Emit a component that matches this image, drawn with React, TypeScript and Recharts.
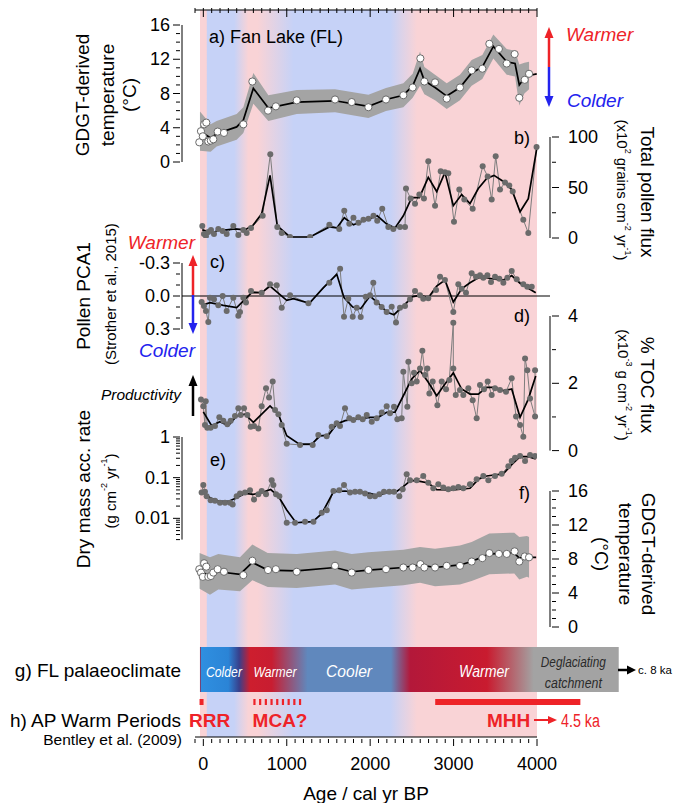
import { ComposedChart, Line, Area, XAxis, YAxis, ReferenceArea, ReferenceLine } from "recharts";

const W = 675;
const H = 803;
const FONT = "Arial, 'Liberation Sans', Helvetica, sans-serif";
const RED = "#ee2328";
const BLUE = "#2323ee";

// px of age 0 and px per year
const AGE0_PX = 203.3;
const PX_PER_YR = 0.08342;
const pxToAge = (px: number) => (px - AGE0_PX) / PX_PER_YR;
const ageToPx = (age: number) => AGE0_PX + age * PX_PER_YR;

// ---- shared GDGT sample ages (panels a and f)
const gdgtAges = [-48, -28, -6, 10, 36, 60, 90, 120, 172, 248, 480, 588, 776, 870, 1120, 1579, 1779, 1979, 2190, 2398, 2510, 2602, 2650, 2778, 2918, 3077, 3217, 3345, 3429, 3543, 3637, 3732, 3788, 3853, 3905];

// a) GDGT temperature (FL calibration)
const tempA = [2.3, 3.6, 3.0, 4.4, 4.6, 2.4, 2.5, 2.65, 3.55, 3.4, 4.4, 9.4, 6.0, 6.5, 7.2, 7.3, 7.0, 6.4, 7.3, 7.8, 8.7, 12.1, 9.4, 9.3, 7.4, 8.7, 10.7, 10.9, 13.8, 13.2, 11.5, 12.6, 7.5, 9.6, 10.3];
const smoothAAges = [-40, 88, 160, 400, 480, 600, 780, 1120, 1579, 1979, 2190, 2398, 2510, 2598, 2650, 2778, 2918, 3077, 3217, 3345, 3477, 3637, 3737, 3788, 3849, 3905, 3997];
const smoothA = [3.6, 2.8, 3.3, 4.1, 4.9, 8.6, 6.3, 7.0, 7.15, 6.5, 7.3, 7.8, 8.9, 10.9, 9.5, 8.7, 7.7, 8.7, 10.4, 11.1, 13.5, 11.7, 11.5, 9.0, 9.8, 10.1, 10.3];
const errA = [2.3, 1.6, 1.5, 1.5, 1.5, 1.8, 1.5, 1.4, 1.35, 1.35, 1.35, 1.4, 1.4, 2.0, 1.6, 1.5, 1.5, 1.5, 1.5, 1.4, 1.4, 1.5, 1.5, 2.4, 1.8, 1.6, 1.6];

// b) total pollen flux
const pollenAges = [-12, 8, 32, 60, 92, 128, 180, 232, 280, 360, 420, 480, 520, 572, 712, 803, 887, 940, 1040, 1280, 1511, 1630, 1690, 1750, 1800, 1860, 1920, 1980, 2040, 2085, 2145, 2218, 2278, 2358, 2418, 2430, 2486, 2538, 2590, 2645, 2697, 2778, 2846, 2897, 2937, 3005, 3069, 3129, 3229, 3349, 3409, 3457, 3505, 3557, 3617, 3668, 3709, 3836, 3896, 3995];
const pollen = [12, 4, 2, 6, 8, 4, 9, 7, 4, 12, 3, 8, 5, 10, 22, 83, 11, 5, 1, 1, 13, 9, 27, 14, 20, 15, 18, 19, 22, 17, 29, 11, 9, 11, 11, 49, 39, 34, 43, 39, 76, 32, 66, 65, 64, 16, 48, 38, 29, 71, 61, 38, 81, 48, 55, 52, 46, 18, 5, 90];
const pollenSmoothAges = [-12, 120, 180, 280, 380, 500, 600, 700, 800, 887, 1040, 1280, 1511, 1600, 1690, 1800, 1920, 2085, 2195, 2298, 2398, 2498, 2590, 2697, 2798, 2897, 2997, 3097, 3197, 3297, 3397, 3485, 3597, 3697, 3797, 3896, 4000];
const pollenSmooth = [8, 5, 8, 8, 9, 8, 13, 24, 62, 12, 1, 1, 11, 10, 20, 13, 17, 22, 14, 10, 22, 40, 40, 60, 46, 65, 32, 43, 34, 49, 59, 62, 56, 48, 26, 39, 90];

// c) pollen PCA1
const pcaAges = [-20, 8, 32, 60, 80, 128, 180, 232, 280, 360, 420, 440, 480, 512, 572, 700, 800, 880, 940, 1040, 1260, 1510, 1640, 1687, 1738, 1791, 1839, 1887, 1947, 1998, 2038, 2078, 2138, 2198, 2258, 2310, 2358, 2418, 2478, 2538, 2598, 2637, 2697, 2790, 2838, 2897, 2997, 3057, 3097, 3149, 3217, 3269, 3317, 3357, 3405, 3449, 3497, 3549, 3597, 3645, 3697, 3757, 3836, 3884, 3937];
const pca = [0.055, 0.09, 0.136, 0.236, 0.015, 0.03, 0.085, 0.0, 0.136, 0.015, 0.18, 0.145, 0.015, 0.06, -0.045, -0.03, -0.106, -0.097, 0.106, -0.006, 0.066, -0.12, -0.248, 0.188, 0.024, 0.188, 0.106, 0.19, 0.006, -0.006, -0.12, 0.06, 0.1, 0.145, 0.097, 0.242, 0.106, 0.09, 0.03, -0.045, -0.006, 0.024, 0.021, -0.055, -0.175, -0.145, 0.145, -0.106, -0.066, -0.03, -0.206, -0.175, -0.188, -0.166, -0.188, -0.127, -0.175, -0.157, -0.12, -0.166, -0.227, -0.152, -0.106, -0.085, -0.085];
const pcaSmoothAges = [-20, 80, 240, 400, 580, 700, 800, 1000, 1080, 1272, 1440, 1600, 1687, 1791, 1887, 1998, 2098, 2198, 2286, 2398, 2510, 2598, 2697, 2798, 2897, 2997, 3097, 3197, 3297, 3397, 3497, 3597, 3697, 3797, 3985];
const pcaSmooth = [0.085, 0.06, 0.085, 0.106, -0.03, -0.03, -0.09, 0.04, 0.024, 0.066, -0.076, -0.197, 0.015, 0.1, 0.115, 0.0, 0.066, 0.145, 0.17, 0.09, 0.006, -0.006, 0.015, -0.09, -0.145, 0.055, -0.066, -0.12, -0.166, -0.166, -0.152, -0.145, -0.185, -0.115, -0.03];

// d) % TOC flux
const tocAges = [-28, 0, 20, 29, 48, 88, 140, 192, 240, 288, 328, 380, 420, 448, 488, 528, 568, 608, 660, 700, 752, 788, 832, 860, 900, 940, 1000, 1160, 1311, 1379, 1479, 1539, 1599, 1639, 1699, 1750, 1798, 1858, 1911, 1959, 2019, 2079, 2139, 2198, 2238, 2286, 2326, 2378, 2398, 2446, 2458, 2498, 2526, 2558, 2598, 2626, 2658, 2686, 2710, 2750, 2806, 2858, 2910, 2949, 2997, 2997, 3026, 3077, 3117, 3177, 3229, 3277, 3317, 3365, 3409, 3457, 3497, 3557, 3629, 3697, 3749, 3797, 3836, 3857, 3884, 3917, 3977, 3977];
const toc = [1.52, 1.32, 0.76, 1.47, 0.68, 0.68, 0.73, 0.99, 0.89, 0.78, 0.89, 1.03, 1.26, 1.06, 1.26, 1.06, 0.71, 0.73, 0.66, 1.32, 1.85, 1.58, 2.05, 1.21, 1.08, 0.76, 0.2, 0.17, 0.17, 0.46, 0.43, 0.71, 0.81, 0.73, 1.26, 0.96, 0.91, 0.99, 0.93, 1.06, 0.86, 0.96, 1.13, 1.32, 1.11, 1.3, 0.93, 0.96, 2.34, 1.3, 2.64, 2.0, 2.31, 2.05, 2.44, 2.97, 2.25, 2.44, 1.7, 2.05, 1.35, 2.05, 1.82, 2.1, 3.8, 2.44, 1.65, 1.8, 1.65, 1.85, 1.5, 0.96, 1.95, 1.82, 2.05, 1.65, 1.85, 1.8, 1.75, 2.15, 1.01, 0.76, 0.41, 2.74, 2.39, 1.55, 1.01, 2.39];
const tocSmoothAges = [0, 100, 200, 300, 400, 500, 600, 800, 900, 1000, 1152, 1300, 1400, 1500, 1600, 1700, 1798, 1898, 1998, 2098, 2198, 2298, 2398, 2498, 2598, 2697, 2798, 2897, 2997, 3097, 3197, 3297, 3397, 3497, 3597, 3697, 3797, 3896, 3985];
const tocSmooth = [1.15, 0.74, 0.86, 0.74, 1.03, 1.08, 0.84, 1.33, 1.08, 0.44, 0.19, 0.19, 0.44, 0.46, 0.79, 0.89, 0.93, 0.96, 0.99, 0.99, 1.14, 1.14, 1.63, 2.13, 2.38, 2.03, 1.63, 1.98, 2.31, 1.83, 1.68, 1.68, 1.88, 1.88, 1.78, 1.83, 0.99, 1.53, 2.22];

// e) dry mass accumulation rate
const dmarAges = [-20, 0, 20, 40, 88, 140, 200, 260, 320, 352, 400, 440, 500, 560, 608, 660, 700, 752, 820, 840, 872, 912, 1000, 1100, 1220, 1320, 1420, 1480, 1560, 1630, 1687, 1759, 1819, 1878, 1939, 1998, 2058, 2110, 2166, 2230, 2286, 2350, 2390, 2438, 2478, 2558, 2637, 2697, 2757, 2817, 2877, 2937, 2997, 3057, 3117, 3197, 3277, 3357, 3417, 3497, 3577, 3657, 3697, 3737, 3797, 3857, 3917, 3977];
const dmar = [0.043, 0.066, 0.045, 0.035, 0.028, 0.027, 0.024, 0.024, 0.024, 0.022, 0.035, 0.041, 0.043, 0.049, 0.029, 0.039, 0.047, 0.039, 0.086, 0.066, 0.039, 0.035, 0.0078, 0.0078, 0.0083, 0.0083, 0.0137, 0.0158, 0.047, 0.049, 0.066, 0.043, 0.045, 0.045, 0.041, 0.035, 0.035, 0.039, 0.045, 0.045, 0.045, 0.035, 0.052, 0.121, 0.086, 0.086, 0.11, 0.075, 0.055, 0.069, 0.057, 0.052, 0.055, 0.059, 0.055, 0.069, 0.091, 0.11, 0.086, 0.11, 0.125, 0.19, 0.257, 0.31, 0.34, 0.257, 0.36, 0.34];
const dmarSmoothAges = [0, 80, 200, 300, 400, 500, 600, 700, 808, 900, 1000, 1112, 1312, 1420, 1560, 1699, 1798, 1898, 1998, 2098, 2198, 2298, 2398, 2486, 2598, 2697, 2798, 2997, 3197, 3297, 3397, 3597, 3697, 3797, 3896, 3985];
const dmarSmooth = [0.043, 0.032, 0.026, 0.026, 0.032, 0.041, 0.039, 0.043, 0.051, 0.035, 0.016, 0.0078, 0.0083, 0.013, 0.045, 0.047, 0.044, 0.043, 0.041, 0.036, 0.043, 0.043, 0.06, 0.086, 0.081, 0.074, 0.051, 0.05, 0.055, 0.091, 0.11, 0.125, 0.21, 0.33, 0.33, 0.29];

// f) GDGT temperature (global calibration)
const tempF = [6.8, 6.4, 5.9, 7.5, 7.1, 5.9, 6.0, 6.4, 6.8, 6.5, 6.1, 7.8, 6.7, 6.8, 6.5, 7.2, 6.4, 6.7, 6.8, 7.0, 7.0, 7.4, 7.0, 7.0, 7.2, 7.2, 7.7, 8.1, 8.7, 8.6, 8.6, 8.9, 7.7, 8.3, 8.2];
const smoothFAges = [-44, 80, 180, 440, 588, 772, 1120, 1579, 1779, 1979, 2398, 2598, 2778, 3077, 3217, 3429, 3728, 3788, 3880, 3905, 3990];
const smoothF = [6.6, 6.0, 6.5, 6.2, 7.6, 6.7, 6.6, 7.0, 6.5, 6.7, 7.0, 7.3, 7.0, 7.3, 7.7, 8.6, 8.7, 8.1, 8.3, 8.2, 8.2];
const errF = [2.1, 2.2, 2.1, 2.0, 2.1, 2.0, 2.0, 2.0, 2.1, 2.1, 2.1, 2.1, 2.2, 2.3, 2.3, 2.4, 2.4, 2.5, 2.4, 2.4, 2.4];
const BAND_END = 3905;

// background climate bands
const bgStopAges = [-40, 35, 48, 370, 540, 650, 1080, 2240, 2560, 4000];
const bgStopColors = ["#f9d3d6", "#f9d3d6", "#c6d2f7", "#c6d2f7", "#f9d3d6", "#f9d3d6", "#c6d2f7", "#c6d2f7", "#f9d3d6", "#f9d3d6"];

// g) FL palaeoclimate bar
const barStart = -40;
const barEnd = 4980;
const barStopAges = [-40, -22, 300, 430, 560, 820, 1250, 2250, 2480, 3400, 3960, 4980];
const barStopColors = ["#9c1c3c", "#2f8fe0", "#2b84d6", "#38408c", "#cd1e2e", "#c81d31", "#6088bd", "#6088bd", "#b3183a", "#c91b2f", "#a3a3a3", "#a3a3a3"];
const phaseLabels = ["Colder", "Warmer", "Cooler", "Warmer"];
const phaseLabelAges = [248, 860, 1747, 3366];
const phaseLabelWidths = [36, 43, 46, 50];
const deglacLabelAge = 4430;

// h) AP warm periods (Bentley et al., 2009)
const warmNames = ["RRR", "MCA?", "MHH"];
const warmStart = [-45, 600, 2780];
const warmEnd = [3, 1210, 4520];
const warmDashed = [false, true, false];
const warmLabelAges = [75, 920, 3659];

// axis ticks
const ageMajors = [0, 1000, 2000, 3000, 4000];
const ageTicks = Array.from({ length: 42 }, (_, i) => -100 + i * 100);
const tempTicks = [0, 1, 2, 3, 4, 5, 6, 7, 8, 9, 10, 11, 12, 13, 14, 15, 16];
const tempMajors = [0, 4, 8, 12, 16];
const pollenTicks = [0, 25, 50, 75, 100];
const pollenMajors = [0, 50, 100];
const pcaTicks = [-0.3, -0.2, -0.1, 0, 0.1, 0.2, 0.3];
const pcaMajors = [-0.3, 0, 0.3];
const tocTicks = [0, 1, 2, 3, 4];
const tocMajors = [0, 2, 4];
const dmarTicks = [0.003, 0.004, 0.005, 0.006, 0.007, 0.008, 0.009, 0.01, 0.02, 0.03, 0.04, 0.05, 0.06, 0.07, 0.08, 0.09, 0.1, 0.2, 0.3, 0.4, 0.5, 0.6, 0.7, 0.8, 0.9, 1];
const dmarMajors = [0.01, 0.1, 1];

const rows = (ages: number[], vals: number[]) => ages.map((age, i) => ({ age, v: vals[i] }));
const bandRows = (ages: number[], vals: number[], errs: number[]) =>
  ages.map((age, i) => ({ age, band: [vals[i] - errs[i], vals[i] + errs[i]] })).filter((r) => r.age <= BAND_END);

const isMajor = (majors: number[], v: number) => majors.some((m) => Math.abs(m - v) < 1e-9);

function yTick(side: "left" | "right", majors: number[], fmt: (v: number) => string) {
  return (p: any) => {
    const { x, y, payload } = p;
    const major = isMajor(majors, payload.value);
    const len = major ? 7 : 4;
    const dir = side === "left" ? -1 : 1;
    return (
      <g>
        <line x1={x} y1={y} x2={x + dir * len} y2={y} stroke="#000" strokeWidth={1} />
        {major && (
          <text
            x={side === "left" ? x - 10 : x + 16}
            y={y}
            textAnchor={side === "left" ? "end" : "start"}
            dominantBaseline="central"
            fontSize={18}
            fontFamily={FONT}
            fill="#000"
          >
            {fmt(payload.value)}
          </text>
        )}
      </g>
    );
  };
}

function xTick(side: "top" | "bottom") {
  return (p: any) => {
    const { x, y, payload } = p;
    const major = isMajor(ageMajors, payload.value);
    const len = side === "top" ? (major ? 9 : 5) : major ? 7 : 4;
    return (
      <g>
        <line x1={x} y1={y} x2={x} y2={y + len} stroke="#000" strokeWidth={1} />
        {side === "bottom" && major && (
          <text x={x} y={y + 25} textAnchor="middle" dominantBaseline="central" fontSize={18} fontFamily={FONT} fill="#000">
            {payload.value}
          </text>
        )}
      </g>
    );
  };
}

type PanelProps = {
  side: "left" | "right";
  plotLeft: number;
  plotRight: number;
  top: number;
  bottom: number;
  yDomain: [number, number];
  yTicks: number[];
  yMajors: number[];
  fmt: (v: number) => string;
  reversed?: boolean;
  log?: boolean;
  children?: any;
};

function Panel(p: PanelProps) {
  const axisW = 50;
  const margin =
    p.side === "left"
      ? { top: p.top, bottom: H - p.bottom, left: p.plotLeft - axisW, right: W - p.plotRight }
      : { top: p.top, bottom: H - p.bottom, left: p.plotLeft, right: W - p.plotRight - axisW };
  return (
    <div style={{ position: "absolute", left: 0, top: 0 }}>
      <ComposedChart width={W} height={H} margin={margin}>
        <XAxis type="number" dataKey="age" hide domain={[pxToAge(p.plotLeft), pxToAge(p.plotRight)]} allowDataOverflow />
        <YAxis
          orientation={p.side}
          width={axisW}
          type="number"
          scale={p.log ? "log" : "linear"}
          domain={p.yDomain}
          allowDataOverflow
          reversed={p.reversed}
          ticks={p.yTicks}
          interval={0}
          tickSize={0}
          tickLine={false}
          axisLine={{ stroke: "#000", strokeWidth: 1 }}
          tick={yTick(p.side, p.yMajors, p.fmt)}
        />
        {p.children}
      </ComposedChart>
    </div>
  );
}

const grayDot = { r: 3, fill: "#6b6b6b", stroke: "none" };
const whiteDot = { r: 3.6, fill: "#ffffff", stroke: "#6a6a6a", strokeWidth: 1 };

function rawLine(data: any[]) {
  return <Line data={data} dataKey="v" type="linear" stroke="#7d7d7d" strokeWidth={1} dot={grayDot} isAnimationActive={false} />;
}
function smoothLine(data: any[]) {
  return <Line data={data} dataKey="v" type="linear" stroke="#000" strokeWidth={1.7} dot={false} isAnimationActive={false} />;
}

const frame = [{ age: -100 }, { age: 4000 }];

// coloured climate bands behind every panel, plus the bottom age axis
function Background() {
  const span = bgStopAges[bgStopAges.length - 1] - bgStopAges[0];
  return (
    <div style={{ position: "absolute", left: 0, top: 0 }}>
      <ComposedChart width={W} height={H} data={frame} margin={{ top: 10, bottom: H - 737 - 40, left: 195, right: W - 537 }}>
        <defs>
          <linearGradient id="bgBands" x1="0" y1="0" x2="1" y2="0">
            {bgStopAges.map((a, i) => (
              <stop key={i} offset={(a - bgStopAges[0]) / span} stopColor={bgStopColors[i]} />
            ))}
          </linearGradient>
        </defs>
        <XAxis type="number" dataKey="age" domain={[-100, 4000]} ticks={ageTicks} interval={0} height={40} tickSize={0} tickLine={false} axisLine={{ stroke: "#000" }} tick={xTick("bottom")} />
        <YAxis hide type="number" domain={[0, 1]} allowDataOverflow />
        <ReferenceArea x1={-40} x2={4000} y1={0} y2={1} fill="url(#bgBands)" fillOpacity={1} stroke="none" ifOverflow="visible" />
      </ComposedChart>
    </div>
  );
}

function TopAxis() {
  return (
    <div style={{ position: "absolute", left: 0, top: 0 }}>
      <ComposedChart width={W} height={H} data={frame} margin={{ top: 0, bottom: 100, left: 195, right: W - 537 }}>
        <XAxis orientation="top" type="number" dataKey="age" domain={[-100, 4000]} ticks={ageTicks} interval={0} height={10} tickSize={0} tickLine={false} axisLine={{ stroke: "#000" }} tick={xTick("top")} />
        <YAxis hide domain={[0, 1]} />
      </ComposedChart>
    </div>
  );
}

function ClimateRows() {
  const span = barEnd - barStart;
  return (
    <div style={{ position: "absolute", left: 0, top: 0 }}>
      <ComposedChart width={W} height={H} data={[{ age: 0 }]} margin={{ top: 640, bottom: H - 740, left: 195, right: 0 }}>
        <defs>
          <linearGradient id="flBar" x1="0" y1="0" x2="1" y2="0">
            {barStopAges.map((a, i) => (
              <stop key={i} offset={(a - barStart) / span} stopColor={barStopColors[i]} />
            ))}
          </linearGradient>
        </defs>
        <XAxis type="number" dataKey="age" hide domain={[pxToAge(195), pxToAge(675)]} allowDataOverflow />
        <YAxis hide domain={[0, 100]} reversed allowDataOverflow />
        <ReferenceArea x1={barStart} x2={barEnd} y1={7} y2={52} fill="url(#flBar)" fillOpacity={1} stroke="none" ifOverflow="visible" />
        {warmNames.map((n, i) => (
          <ReferenceLine
            key={n}
            segment={[
              { x: warmStart[i], y: 62 },
              { x: warmEnd[i], y: 62 },
            ]}
            stroke={RED}
            strokeWidth={6}
            strokeDasharray={warmDashed[i] ? "2.2 3.5" : undefined}
            ifOverflow="visible"
          />
        ))}
      </ComposedChart>
    </div>
  );
}

function VArrow({ x, top, mid, bottom, up, down }: { x: number; top: number; mid: number; bottom: number; up: string; down?: string }) {
  const hw = 4.5;
  const hl = 11;
  return (
    <g>
      <line x1={x} y1={top + hl - 1} x2={x} y2={mid} stroke={up} strokeWidth={2.5} />
      <polygon points={`${x},${top} ${x - hw},${top + hl} ${x + hw},${top + hl}`} fill={up} />
      {down && (
        <>
          <line x1={x} y1={mid} x2={x} y2={bottom - hl + 1} stroke={down} strokeWidth={2.5} />
          <polygon points={`${x},${bottom} ${x - hw},${bottom - hl} ${x + hw},${bottom - hl}`} fill={down} />
        </>
      )}
    </g>
  );
}

function RotText({ x, y, rot, size, children }: { x: number; y: number; rot: number; size: number; children: any }) {
  return (
    <text transform={`translate(${x},${y}) rotate(${rot})`} textAnchor="middle" dominantBaseline="central" fontSize={size} fill="#000">
      {children}
    </text>
  );
}

function Sup({ children, size = 9 }: { children: any; size?: number }) {
  return (
    <>
      <tspan dy={-6} fontSize={size}>
        {children}
      </tspan>
      <tspan dy={6}> </tspan>
    </>
  );
}

function Overlay() {
  return (
    <svg width={W} height={H} style={{ position: "absolute", left: 0, top: 0, pointerEvents: "none" }} fontFamily={FONT}>
      {/* left axis titles */}
      <RotText x={82} y={95} rot={-90} size={19}>GDGT-derived</RotText>
      <RotText x={107} y={95} rot={-90} size={19}>temperature</RotText>
      <RotText x={129} y={95} rot={-90} size={19}>(°C)</RotText>
      <RotText x={83} y={296} rot={-90} size={19}>Pollen PCA1</RotText>
      <RotText x={110} y={294} rot={-90} size={15}>(Strother et al., 2015)</RotText>
      <RotText x={83} y={489} rot={-90} size={19}>Dry mass acc. rate</RotText>
      <text transform="translate(110,491) rotate(-90)" textAnchor="middle" dominantBaseline="central" fontSize={15}>
        (g cm<Sup>-2</Sup>yr<tspan dy={-6} fontSize={9}>-1</tspan><tspan dy={6}>)</tspan>
      </text>

      {/* right axis titles */}
      <RotText x={647} y={192} rot={90} size={19}>Total pollen flux</RotText>
      <text transform="translate(622,190) rotate(90)" textAnchor="middle" dominantBaseline="central" fontSize={15}>
        (x10<Sup>2</Sup>grains cm<Sup>-2</Sup>yr<tspan dy={-6} fontSize={9}>-1</tspan><tspan dy={6}>)</tspan>
      </text>
      <RotText x={647} y={385} rot={90} size={19}>% TOC flux</RotText>
      <text transform="translate(623,385) rotate(90)" textAnchor="middle" dominantBaseline="central" fontSize={15}>
        (x10<Sup>-3</Sup>g cm<Sup>-2</Sup>yr<tspan dy={-6} fontSize={9}>-1</tspan><tspan dy={6}>)</tspan>
      </text>
      <RotText x={648} y={554} rot={90} size={19}>GDGT-derived</RotText>
      <RotText x={625} y={554} rot={90} size={19}>temperature</RotText>
      <RotText x={601} y={554} rot={90} size={19}>(°C)</RotText>

      {/* panel letters */}
      <text x={209} y={37} fontSize={18} dominantBaseline="central">a) Fan Lake (FL)</text>
      <text x={530} y={138} fontSize={18} textAnchor="end" dominantBaseline="central">b)</text>
      <text x={210} y={262} fontSize={18} dominantBaseline="central">c)</text>
      <text x={530} y={316} fontSize={18} textAnchor="end" dominantBaseline="central">d)</text>
      <text x={210} y={460} fontSize={18} dominantBaseline="central">e)</text>
      <text x={530} y={493} fontSize={18} textAnchor="end" dominantBaseline="central">f)</text>

      {/* warmer / colder arrows */}
      <VArrow x={549} top={27} mid={67} bottom={107} up={RED} down={BLUE} />
      <text x={566} y={34} fontSize={19} fontStyle="italic" fill={RED} dominantBaseline="central">Warmer</text>
      <text x={567} y={100} fontSize={19} fontStyle="italic" fill={BLUE} dominantBaseline="central">Colder</text>
      <VArrow x={193} top={255} mid={295} bottom={334} up={RED} down={BLUE} />
      <text x={195} y={242} fontSize={19} fontStyle="italic" fill={RED} textAnchor="end" dominantBaseline="central">Warmer</text>
      <text x={195} y={350} fontSize={19} fontStyle="italic" fill={BLUE} textAnchor="end" dominantBaseline="central">Colder</text>
      <VArrow x={193} top={375} mid={416} bottom={416} up="#000" />
      <text x={181} y={394} fontSize={15.5} fontStyle="italic" textAnchor="end" dominantBaseline="central">Productivity</text>

      {/* g) and h) rows */}
      <text x={181} y={670} fontSize={19} textAnchor="end" dominantBaseline="central">g) FL palaeoclimate</text>
      <text x={181} y={720} fontSize={19} textAnchor="end" dominantBaseline="central">h) AP Warm Periods</text>
      <text x={182} y={739} fontSize={15.5} textAnchor="end" dominantBaseline="central">Bentley et al. (2009)</text>
      {phaseLabels.map((l, i) => (
        <text
          key={i}
          x={ageToPx(phaseLabelAges[i]) - phaseLabelWidths[i] / 2}
          y={671}
          fontSize={i >= 2 ? 17 : 15.5}
          fontStyle="italic"
          fill="#ffffff"
          dominantBaseline="central"
          textLength={phaseLabelWidths[i]}
          lengthAdjust="spacingAndGlyphs"
        >
          {l}
        </text>
      ))}
      <text x={ageToPx(deglacLabelAge) - 32} y={661} fontSize={15} fontStyle="italic" fill="#2a2a2a" dominantBaseline="central" textLength={65} lengthAdjust="spacingAndGlyphs">Deglaciating</text>
      <text x={ageToPx(deglacLabelAge) - 28} y={682} fontSize={15} fontStyle="italic" fill="#2a2a2a" dominantBaseline="central" textLength={57} lengthAdjust="spacingAndGlyphs">catchment</text>
      <line x1={618} y1={670} x2={628} y2={670} stroke="#000" strokeWidth={2.5} />
      <polygon points="636,670 627,665.5 627,674.5" fill="#000" />
      <text x={638} y={670} fontSize={11.5} dominantBaseline="central">c. 8 ka</text>
      {warmNames.map((n, i) => (
        <text key={n} x={ageToPx(warmLabelAges[i])} y={720} fontSize={19} fontWeight="bold" fill={RED} textAnchor="middle" dominantBaseline="central">
          {n}
        </text>
      ))}
      <line x1={534} y1={720} x2={549} y2={720} stroke={RED} strokeWidth={2} />
      <polygon points="557,720 548,716 548,724" fill={RED} />
      <text x={561} y={721} fontSize={18} fill={RED} dominantBaseline="central" textLength={39} lengthAdjust="spacingAndGlyphs">4.5 ka</text>

      {/* x-axis title */}
      <text x={366} y={793} fontSize={19} textAnchor="middle" dominantBaseline="central">Age / cal yr BP</text>
    </svg>
  );
}

export default function App() {
  const aPts = rows(gdgtAges, tempA);
  const fPts = rows(gdgtAges, tempF);
  return (
    <div style={{ position: "relative", width: W, height: H, fontFamily: FONT, background: "#fff", overflow: "hidden" }}>
      <style>{"body{margin:0}"}</style>
      <Background />
      <TopAxis />
      <ClimateRows />

      {/* a) GDGT temperature */}
      <Panel side="left" plotLeft={182} plotRight={537} top={25} bottom={162} yDomain={[0, 16]} yTicks={tempTicks} yMajors={tempMajors} fmt={(v) => String(v)}>
        <Area data={bandRows(smoothAAges, smoothA, errA)} dataKey="band" type="linear" stroke="none" fill="#a4a4a4" fillOpacity={1} isAnimationActive={false} />
        {smoothLine(rows(smoothAAges, smoothA))}
        <Line data={aPts} dataKey="v" type="linear" stroke="none" dot={whiteDot} isAnimationActive={false} />
      </Panel>

      {/* b) pollen flux */}
      <Panel side="right" plotLeft={195} plotRight={550} top={137} bottom={238} yDomain={[0, 100]} yTicks={pollenTicks} yMajors={pollenMajors} fmt={(v) => String(v)}>
        {rawLine(rows(pollenAges, pollen))}
        {smoothLine(rows(pollenSmoothAges, pollenSmooth))}
      </Panel>

      {/* c) pollen PCA1 */}
      <Panel side="left" plotLeft={182} plotRight={550} top={263} bottom={329} yDomain={[-0.3, 0.3]} reversed yTicks={pcaTicks} yMajors={pcaMajors} fmt={(v) => v.toFixed(1)}>
        <ReferenceLine y={0} stroke="#000" strokeWidth={1.2} />
        {rawLine(rows(pcaAges, pca))}
        {smoothLine(rows(pcaSmoothAges, pcaSmooth))}
      </Panel>

      {/* d) TOC flux */}
      <Panel side="right" plotLeft={195} plotRight={550} top={316} bottom={450.6} yDomain={[0, 4]} yTicks={tocTicks} yMajors={tocMajors} fmt={(v) => String(v)}>
        {rawLine(rows(tocAges, toc))}
        {smoothLine(rows(tocSmoothAges, tocSmooth))}
      </Panel>

      {/* e) dry mass accumulation rate */}
      <Panel side="left" plotLeft={182} plotRight={537} top={437} bottom={539.6} yDomain={[0.003, 1]} log yTicks={dmarTicks} yMajors={dmarMajors} fmt={(v) => String(v)}>
        {rawLine(rows(dmarAges, dmar))}
        {smoothLine(rows(dmarSmoothAges, dmarSmooth))}
      </Panel>

      {/* f) GDGT temperature */}
      <Panel side="right" plotLeft={195} plotRight={550} top={491} bottom={627} yDomain={[0, 16]} yTicks={tempTicks} yMajors={tempMajors} fmt={(v) => String(v)}>
        <Area data={bandRows(smoothFAges, smoothF, errF)} dataKey="band" type="linear" stroke="none" fill="#a4a4a4" fillOpacity={1} isAnimationActive={false} />
        {smoothLine(rows(smoothFAges, smoothF))}
        <Line data={fPts} dataKey="v" type="linear" stroke="none" dot={whiteDot} isAnimationActive={false} />
      </Panel>

      <Overlay />
    </div>
  );
}
